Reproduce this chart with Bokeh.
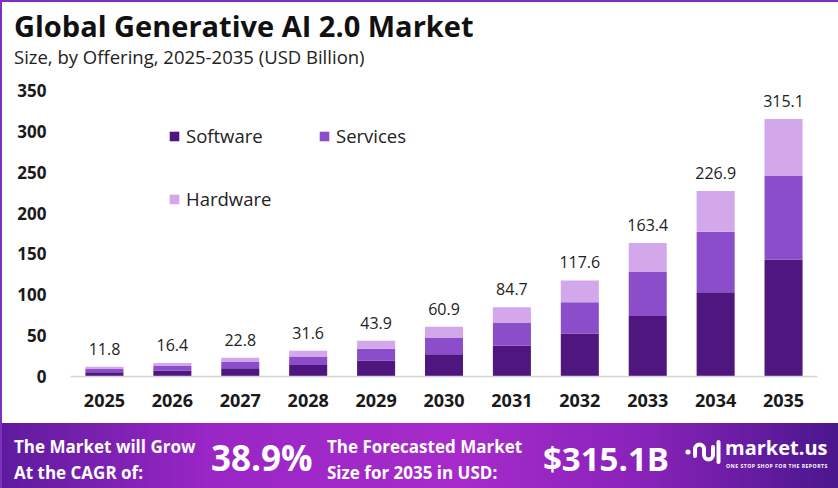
from bokeh.plotting import figure
from bokeh.models import (Range1d, FactorRange, Legend, LegendItem,
                          ColumnDataSource, LabelSet, Div)
from bokeh.layouts import column
from bokeh.embed import file_html
from bokeh.resources import INLINE
from bokeh.core.properties import value

# ---------------- data ----------------
years = ["2025", "2026", "2027", "2028", "2029", "2030",
         "2031", "2032", "2033", "2034", "2035"]
software = [5.3, 7.4, 10.2, 14.2, 19.7, 27.3, 38.0, 52.5, 74.0, 103.0, 143.0]
services = [3.8, 5.3, 7.4, 10.3, 14.4, 19.8, 27.5, 38.5, 54.0, 74.0, 103.0]
hardware = [2.7, 3.7, 5.2, 7.1, 9.8, 13.8, 19.2, 26.6, 35.4, 49.9, 69.1]
totals = [11.8, 16.4, 22.8, 31.6, 43.9, 60.9, 84.7, 117.6, 163.4, 226.9, 315.1]
y_ticks = [0, 50, 100, 150, 200, 250, 300, 350]

title_text = "Global Generative AI 2.0 Market"
subtitle_text = "Size, by Offering, 2025-2035 (USD Billion)"
cagr_text = "38.9%"
forecast_text = "$315.1B"

# ---------------- style ----------------
W = 836
HH, CH, BH = 74, 347, 65
BL, BR, BT, BB = 68, 21, 14, 47
FONT = "Open Sans"
C_SW, C_SV, C_HW = "#4f1680", "#8b4dca", "#d3a8eb"
DARK = "#1a1a1a"


def span(txt, left, cy, fs, lh_f=1.25, weight=700, color="white", extra=""):
    lh = round(fs * lh_f)
    return (f'<span style="position:absolute;left:{left}px;top:{cy - lh / 2}px;'
            f'font-size:{fs}px;line-height:{lh}px;font-weight:{weight};'
            f'white-space:nowrap;color:{color};{extra}">{txt}</span>')


# ---------------- header ----------------
header_html = (
    f'<div style="position:relative;width:{W}px;height:{HH}px;background:white;'
    'font-family:\'Open Sans\',sans-serif;">'
    + span(title_text, 12, 24, 29, color="#111111")
    + span(subtitle_text, 12, 54, 18.5, weight=400, color="#222222")
    + '</div>')
header = Div(text=header_html, width=W, height=HH, margin=0)

# ---------------- chart ----------------
src = ColumnDataSource(dict(year=years, Software=software, Services=services,
                            Hardware=hardware, total=totals,
                            lbl=[f"{t:.1f}" for t in totals]))

p = figure(width=W, height=CH, x_range=FactorRange(*years),
           y_range=Range1d(0, 350), toolbar_location=None, title=None,
           output_backend="svg", min_border_left=BL, min_border_right=BR,
           min_border_top=BT, min_border_bottom=BB, outline_line_color=None)
rs = p.vbar_stack(["Software", "Services", "Hardware"], x="year", width=0.56,
                  color=[C_SW, C_SV, C_HW], source=src, line_color=None)

p.add_layout(LabelSet(x="year", y="total", text="lbl", source=src,
                      text_align="center", text_baseline="bottom", y_offset=12,
                      text_font=value(FONT), text_font_size="16px",
                      text_color="#222222"))

p.grid.visible = False
p.x_range.range_padding = 0
p.x_range.factor_padding = 0
p.xaxis.axis_line_color = "#d6d6d6"
p.xaxis.axis_line_width = 1.5
p.xaxis.major_tick_line_color = None
p.xaxis.minor_tick_line_color = None
p.xaxis.major_label_standoff = 11
p.xaxis.major_label_text_font = FONT
p.xaxis.major_label_text_font_size = "18px"
p.xaxis.major_label_text_font_style = "bold"
p.xaxis.major_label_text_color = DARK

p.yaxis.ticker = y_ticks
p.yaxis.axis_line_color = None
p.yaxis.major_tick_line_color = None
p.yaxis.minor_tick_line_color = None
p.yaxis.major_label_standoff = 18
p.yaxis.major_label_text_font = FONT
p.yaxis.major_label_text_font_size = "17px"
p.yaxis.major_label_text_font_style = "bold"
p.yaxis.major_label_text_color = DARK

leg_style = dict(border_line_color=None, background_fill_alpha=0, padding=0,
                 margin=0, glyph_width=12, glyph_height=12, label_standoff=6,
                 label_text_font=FONT, label_text_font_size="18.5px",
                 label_text_color="#222222", label_height=20)
leg1 = Legend(items=[LegendItem(label="Software", renderers=[rs[0]]),
                     LegendItem(label="Services", renderers=[rs[1]])],
              orientation="horizontal", location=(98, 228), spacing=12,
              label_width=120, **leg_style)
leg2 = Legend(items=[LegendItem(label="Hardware", renderers=[rs[2]])],
              orientation="horizontal", location=(98, 165), **leg_style)
p.add_layout(leg1)
p.add_layout(leg2)

# ---------------- banner ----------------
logo = ('<svg style="position:absolute;left:682px;top:16px" width="38" height="26" '
        'viewBox="0 0 38 26">'
        '<circle cx="4" cy="13" r="2.6" fill="white"/>'
        '<path d="M11 17 V10 a4.5 4.5 0 0 1 9 0 V16 a4.5 4.5 0 0 0 9 0 V8" '
        'stroke="white" stroke-width="4" fill="none" stroke-linecap="round"/>'
        '<path d="M34.5 3 V23" stroke="white" stroke-width="4" stroke-linecap="round"/>'
        '</svg>')

banner_html = (
    f'<div style="position:relative;width:{W}px;height:{BH}px;overflow:hidden;'
    'background:linear-gradient(90deg,#5e1b9e 0%,#9a26c6 25%,#a62bca 55%,'
    '#8622b8 78%,#4a168c 100%);color:white;font-family:\'Open Sans\',sans-serif;">'
    + span("The Market will Grow", 12, 23, 17)
    + span("At the CAGR of:", 12, 49, 17)
    + span(cagr_text, 209, 35, 35)
    + span("The Forecasted Market", 325, 23, 17)
    + span("Size for 2035 in USD:", 325, 49, 17)
    + span(forecast_text, 541, 35, 33)
    + logo
    + span("market.us", 723, 25, 20, 1.0)
    + span("ONE STOP SHOP FOR THE REPORTS", 724, 43, 5.2, 1.0,
           extra="letter-spacing:0.45px;")
    + '</div>')

banner = Div(text=banner_html, width=W, height=BH, margin=0)

layout = column(header, p, banner, spacing=0,
                styles={"border-left": "2px solid #7d2fc0",
                        "border-top": "2px solid #7d2fc0"})

open("out.html", "w").write(file_html(layout, INLINE))
